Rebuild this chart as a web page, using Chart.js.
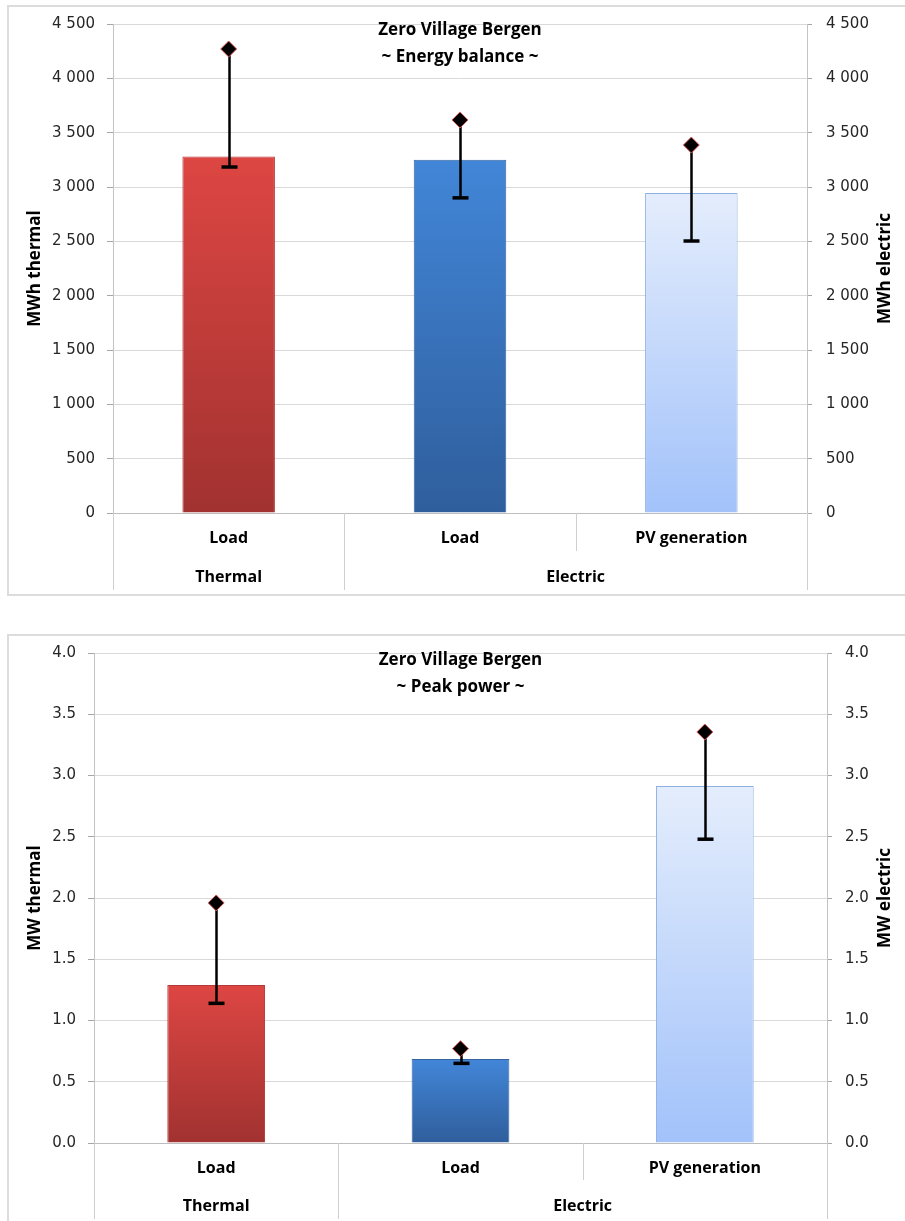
<!DOCTYPE html>
<html>
<head>
<meta charset="utf-8">
<script src="https://cdn.jsdelivr.net/npm/chart.js@4.4.1/dist/chart.umd.min.js"></script>
<style>
  html, body { margin: 0; padding: 0; background: #ffffff; }
  body { width: 905px; height: 1221px; position: relative; overflow: hidden; }
  .box { position: absolute; border: 2px solid #dcdcdc; box-sizing: border-box; }
  canvas { position: absolute; left: 0; }
</style>
</head>
<body>
<div class="box" style="left:7px; top:5px; width:910px; height:591px;"></div>
<div class="box" style="left:7px; top:634px; width:910px; height:600px;"></div>
<canvas id="c1" width="905" height="600" style="top:0px; width:905px; height:600px;"></canvas>
<canvas id="c2" width="905" height="592" style="top:629px; width:905px; height:592px;"></canvas>
<script>
// ---------- data ----------
const categories = ['Load', 'Load', 'PV generation'];
const groupLabels = ['Thermal', 'Electric'];
const groupSpans = [1, 2];

const energyTitle = ['Zero Village Bergen', '~ Energy balance ~'];
const energyValues = [3280, 3250, 2945];
const energyHigh = [4270, 3617, 3386];
const energyLow = [3184, 2900, 2503];
const energyTicks = [0, 500, 1000, 1500, 2000, 2500, 3000, 3500, 4000, 4500];
const energyAxisTitles = ['MWh thermal', 'MWh electric'];

const peakTitle = ['Zero Village Bergen', '~ Peak power ~'];
const peakValues = [1.29, 0.685, 2.915];
const peakHigh = [1.96, 0.77, 3.355];
const peakLow = [1.14, 0.65, 2.48];
const peakTicks = [0.0, 0.5, 1.0, 1.5, 2.0, 2.5, 3.0, 3.5, 4.0];
const peakAxisTitles = ['MW thermal', 'MW electric'];

// ---------- styling ----------
const barGradients = [
  ['#dd4643', '#a13230', '#b53a37'],
  ['#4286d8', '#2f5e9c', '#34639f'],
  ['#e4edfc', '#a2c2fa', '#8fb1e2']
];
const TICK_FONT = { family: 'DejaVu Sans', size: 15 };
const BOLD = 'bold 16px "Open Sans"';
const BOLD_T = 'bold 17px "Open Sans"';

function barColor(ctx) {
  const chart = ctx.chart;
  const i = ctx.dataIndex;
  const g = barGradients[i % barGradients.length];
  const ca = chart.chartArea;
  if (!ca || !chart.scales.y || ctx.parsed === undefined) return g[0];
  const yTop = chart.scales.y.getPixelForValue(ctx.parsed.y);
  const yBot = chart.scales.y.getPixelForValue(0);
  if (!isFinite(yTop) || !isFinite(yBot) || yBot - yTop < 1) return g[0];
  const grad = chart.ctx.createLinearGradient(0, yTop, 0, yBot);
  grad.addColorStop(0, g[0]);
  grad.addColorStop(1, g[1]);
  return grad;
}
function barBorder(ctx) {
  return barGradients[ctx.dataIndex % barGradients.length][2];
}

const decor = {
  id: 'decor',
  afterDatasetDraw(chart, args, opts) {
    if (args.meta.type !== 'bar') return;
    const c = chart.ctx, x = chart.scales.x, y = chart.scales.y;
    c.save();
    c.strokeStyle = '#000000';
    for (let i = 0; i < opts.high.length; i++) {
      const px = Math.round(x.getPixelForValue(i)) + 0.5;
      const yh = y.getPixelForValue(opts.high[i]);
      const yl = y.getPixelForValue(opts.low[i]);
      c.lineWidth = 2.5;
      c.beginPath(); c.moveTo(px, yh); c.lineTo(px, yl); c.stroke();
      c.lineWidth = 3.5;
      c.beginPath(); c.moveTo(px - 8, yl); c.lineTo(px + 8, yl); c.stroke();
    }
    c.restore();
  },
  afterDraw(chart, args, opts) {
    const c = chart.ctx, ca = chart.chartArea, x = chart.scales.x;
    const pb = ca.bottom;
    c.save();
    // separators below axis
    const n = categories.length;
    const bounds = [];
    for (let i = 0; i <= n; i++) {
      if (i === 0) bounds.push(ca.left);
      else if (i === n) bounds.push(ca.right);
      else bounds.push((x.getPixelForValue(i - 1) + x.getPixelForValue(i)) / 2);
    }
    const groupEdges = [0];
    let acc = 0;
    groupSpans.forEach(s => { acc += s; groupEdges.push(acc); });
    c.strokeStyle = '#cfcfcf';
    c.lineWidth = 1;
    bounds.forEach((bx, i) => {
      const longLine = groupEdges.includes(i);
      const px = Math.round(bx) + 0.5;
      c.beginPath();
      c.moveTo(px, pb);
      c.lineTo(px, pb + (longLine ? opts.longSep : opts.shortSep));
      c.stroke();
    });
    // category labels
    c.fillStyle = '#000000';
    c.textAlign = 'center';
    c.textBaseline = 'middle';
    c.font = BOLD;
    categories.forEach((lab, i) => {
      c.fillText(lab, x.getPixelForValue(i), pb + opts.catY);
    });
    // group labels
    groupLabels.forEach((lab, g) => {
      const cx = (bounds[groupEdges[g]] + bounds[groupEdges[g + 1]]) / 2;
      c.fillText(lab, cx, pb + opts.groupY);
    });
    // chart title
    c.font = BOLD_T;
    const tx = (ca.left + ca.right) / 2;
    c.fillText(opts.title[0], tx, ca.top + opts.titleY[0]);
    c.fillText(opts.title[1], tx, ca.top + opts.titleY[1]);
    // axis titles
    const cy = (ca.top + ca.bottom) / 2;
    c.save();
    c.translate(opts.axisX[0], cy);
    c.rotate(-Math.PI / 2);
    c.fillText(opts.axisTitles[0], 0, 0);
    c.restore();
    c.save();
    c.translate(opts.axisX[1], cy);
    c.rotate(-Math.PI / 2);
    c.fillText(opts.axisTitles[1], 0, 0);
    c.restore();
    c.restore();
  }
};

function makeChart(id, cfg) {
  const minV = cfg.ticks[0], maxV = cfg.ticks[cfg.ticks.length - 1];
  const step = cfg.ticks[1] - cfg.ticks[0];
  const yCommon = {
    min: minV, max: maxV,
    ticks: { stepSize: step, font: TICK_FONT, color: '#262626', callback: cfg.fmt },
    afterBuildTicks(scale) { scale.ticks = cfg.ticks.map(v => ({ value: v })); }
  };
  return new Chart(document.getElementById(id), {
    type: 'bar',
    data: {
      labels: categories,
      datasets: [
        {
          type: 'line',
          data: cfg.high,
          showLine: false,
          pointStyle: 'rectRot',
          pointRadius: 8,
          pointBackgroundColor: '#000000',
          pointBorderColor: '#e05a5a',
          pointBorderWidth: 1,
          order: 0,
          yAxisID: 'y'
        },
        {
          type: 'bar',
          data: cfg.values,
          backgroundColor: barColor,
          borderColor: barBorder,
          borderWidth: 1,
          categoryPercentage: 1.0,
          barPercentage: 0.4,
          order: 1,
          yAxisID: 'y'
        }
      ]
    },
    options: {
      responsive: false,
      animation: false,
      devicePixelRatio: 1,
      layout: { padding: { left: 0, right: 0, top: cfg.topPad, bottom: 0 } },
      plugins: {
        legend: { display: false },
        tooltip: { enabled: false },
        decor: {
          high: cfg.high, low: cfg.low, title: cfg.title, axisTitles: cfg.axisTitles,
          titleY: cfg.titleY, catY: 25, groupY: cfg.groupY,
          longSep: cfg.longSep, shortSep: cfg.shortSep, axisX: [35, 885]
        }
      },
      scales: {
        x: {
          type: 'category',
          offset: true,
          grid: { display: false },
          border: { display: true, color: '#bdbdbd', width: 1 },
          ticks: { display: false },
          afterFit(scale) { scale.height = cfg.xHeight; }
        },
        y: Object.assign({}, yCommon, {
          position: 'left',
          grid: { color: '#d9d9d9', lineWidth: 1, tickLength: 6, tickColor: '#a6a6a6' },
          border: { display: true, color: '#c4c4c4', width: 1 },
          ticks: Object.assign({}, yCommon.ticks, { padding: 12 }),
          afterFit(scale) { scale.width = cfg.leftW; }
        }),
        y2: Object.assign({}, yCommon, {
          position: 'right',
          grid: { drawOnChartArea: false, tickLength: 5, tickColor: '#a6a6a6' },
          border: { display: true, color: '#c4c4c4', width: 1 },
          ticks: Object.assign({}, yCommon.ticks, { padding: cfg.rightPad }),
          afterFit(scale) { scale.width = cfg.rightW; }
        })
      }
    },
    plugins: [decor]
  });
}

const fmtSpace = v => String(Math.round(v)).replace(/\B(?=(\d{3})+(?!\d))/g, '\u2009'.replace('\u2009', ' '));
const fmtOne = v => Number(v).toFixed(1);

makeChart('c1', {
  values: energyValues, high: energyHigh, low: energyLow, ticks: energyTicks,
  fmt: fmtSpace, title: energyTitle, axisTitles: energyAxisTitles,
  leftW: 113, rightW: 98, topPad: 24, xHeight: 87, rightPad: 14,
  titleY: [6, 33], groupY: 64, longSep: 77, shortSep: 38
});
makeChart('c2', {
  values: peakValues, high: peakHigh, low: peakLow, ticks: peakTicks,
  fmt: fmtOne, title: peakTitle, axisTitles: peakAxisTitles,
  leftW: 94, rightW: 78, topPad: 24, xHeight: 78, rightPad: 13,
  titleY: [7, 34], groupY: 63, longSep: 76, shortSep: 37
});
</script>
</body>
</html>
